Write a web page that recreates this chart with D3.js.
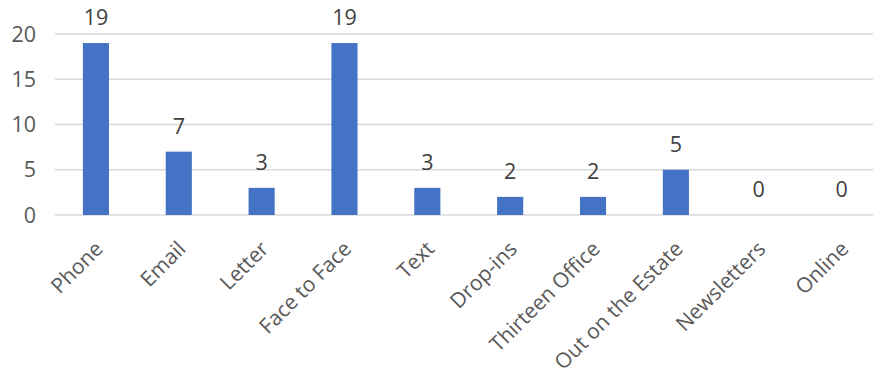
<!DOCTYPE html>
<html><head><meta charset="utf-8">
<script src="https://cdn.jsdelivr.net/npm/d3@7"></script>
<style>
html,body{margin:0;padding:0;background:#fff;}
svg{display:block;font-family:"Open Sans",sans-serif;}
</style></head>
<body><svg id="chart" width="873" height="374"></svg>
<script>
const categories = ["Phone","Email","Letter","Face to Face","Text","Drop-ins","Thirteen Office","Out on the Estate","Newsletters","Online"];
const values = [19,7,3,19,3,2,2,5,0,0];
const yTicks = [0,5,10,15,20];

const svg = d3.select("#chart");
const x = d3.scaleBand().domain(categories).range([54.5, 883]).padding(0);
const y = d3.scaleLinear().domain([0,20]).range([215, 34]);
const fs = 21.5;

// gridlines
svg.append("g").selectAll("line").data(yTicks).join("line")
  .attr("x1", 55).attr("x2", 873)
  .attr("y1", d => y(d)).attr("y2", d => y(d))
  .attr("stroke", "#d9d9d9").attr("stroke-width", 1.5);

// y tick labels
svg.append("g").selectAll("text").data(yTicks).join("text")
  .attr("x", 36).attr("y", d => y(d)).attr("dy", "0.35em")
  .attr("text-anchor", "end").attr("font-size", fs).attr("fill", "#595959")
  .text(d => d);

const bw = x.bandwidth() * 0.315;
// bars
svg.append("g").selectAll("rect").data(values).join("rect")
  .attr("x", (d,i) => x(categories[i]) + x.bandwidth()/2 - bw/2)
  .attr("width", bw)
  .attr("y", d => y(d))
  .attr("height", d => y(0) - y(d))
  .attr("fill", "#4472c4");

// value labels
svg.append("g").selectAll("text").data(values).join("text")
  .attr("x", (d,i) => x(categories[i]) + x.bandwidth()/2)
  .attr("y", d => y(d) - 18)
  .attr("text-anchor", "middle").attr("font-size", fs).attr("fill", "#404040")
  .text(d => d);

// x labels
svg.append("g").selectAll("text").data(categories).join("text")
  .attr("transform", d => `translate(${x(d) + x.bandwidth()/2 + 3},245) rotate(-45)`)
  .attr("dy", "0.35em")
  .attr("text-anchor", "end").attr("font-size", 21).attr("fill", "#595959")
  .text(d => d);
</script></body></html>
